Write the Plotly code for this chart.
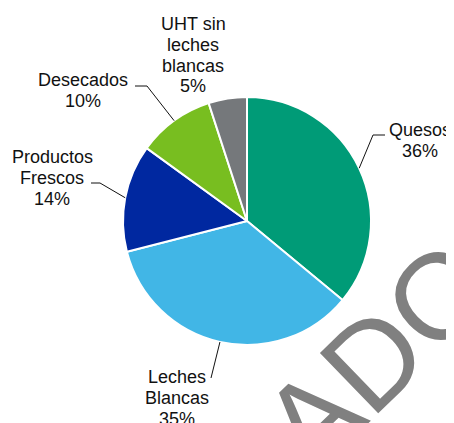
import math
import plotly.graph_objects as go

# data
categories = ["Quesos", "Leches Blancas", "Productos Frescos", "Desecados", "UHT sin leches blancas"]
label_text = ["Quesos", "Leches<br>Blancas", "Productos<br>Frescos", "Desecados", "UHT sin<br>leches<br>blancas"]
values = [36, 35, 14, 10, 5]
colors = ["#009B77", "#41B6E6", "#0028A0", "#78BE20", "#75787B"]

# page is 454x423, the html body adds an 8px margin
OFF = 8
W, H = 454 - OFF, 423 - OFF
cx, cy, r = 247, 221, 124

# label layout (window pixels): center x, first baseline y
label_pos = [(420, 136), (177, 383), (52, 163), (83, 86), (193, 30)]
# leader line: elbow and end points (None = no leader)
leaders = [((373, 135), (385, 135)),
           ((211, 378), None),
           ((100, 183), (91, 183)),
           ((147, 86), (135, 86)),
           None]
line_gap = 20.8
font_size = 18


def px(x, y):
    return (x - OFF) / W, 1 - (y - OFF) / H


fig = go.Figure()

d0 = px(cx - r, cy + r)
d1 = px(cx + r, cy - r)
fig.add_trace(go.Pie(
    labels = categories,
    values = values,
    sort = False,
    direction = "clockwise",
    rotation = 0,
    textinfo = "none",
    marker = dict(colors = colors, line = dict(color = "white", width = 2)),
    domain = dict(x = [d0[0], d1[0]], y = [d0[1], d1[1]])))

annotations = []
shapes = []
total = sum(values)
cum = 0
for i, v in enumerate(values):
    mid = (cum + v / 2) / total * 2 * math.pi
    cum += v

    # label lines
    lines = label_text[i].split("<br>") + ["%d%%" % round(v / total * 100)]
    lx, ly = label_pos[i]
    for j, t in enumerate(lines):
        xx, yy = px(lx, ly + j * line_gap - 0.33 * font_size)
        annotations.append(dict(
            x = xx, y = yy, xref = "paper", yref = "paper",
            text = t, showarrow = False, xanchor = "center", yanchor = "middle",
            font = dict(family = "Liberation Sans, Arial", size = font_size, color = "#111111")))

    # leader line from slice edge
    if leaders[i] is not None:
        sx, sy = cx + r * math.sin(mid), cy - r * math.cos(mid)
        pts = [(sx, sy)] + [p for p in leaders[i] if p is not None]
        for a, b in zip(pts[:-1], pts[1:]):
            x0, y0 = px(*a)
            x1, y1 = px(*b)
            shapes.append(dict(type = "line", xref = "paper", yref = "paper",
                               x0 = x0, y0 = y0, x1 = x1, y1 = y1,
                               line = dict(color = "#111111", width = 1)))

# watermark
wx, wy = px(283, 447)
annotations.append(dict(
    x = wx, y = wy, xref = "paper", yref = "paper",
    text = "BORRADOR", showarrow = False, textangle = -44,
    xanchor = "center", yanchor = "middle",
    font = dict(family = "Liberation Sans, Arial", size = 122, color = "#808080")))

fig.update_layout(
    width = W, height = H,
    margin = dict(l = 0, r = 0, t = 0, b = 0),
    paper_bgcolor = "white",
    plot_bgcolor = "white",
    showlegend = False,
    annotations = annotations,
    shapes = shapes)

fig.write_html("out.html")
